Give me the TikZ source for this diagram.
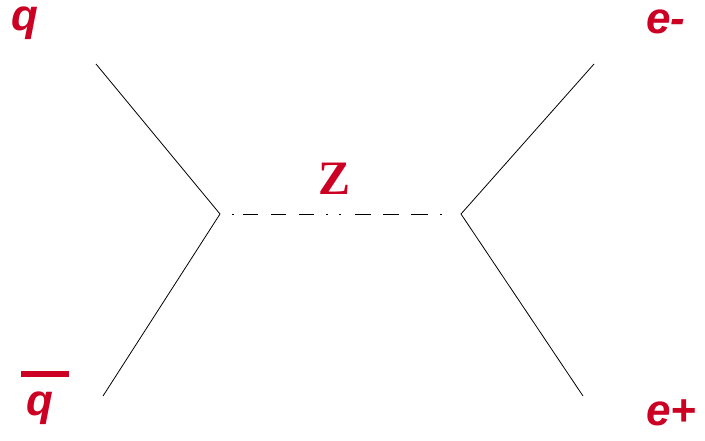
\documentclass[tikz,border=0pt]{standalone}
\usepackage{fontspec}
\setmainfont{Liberation Sans}
\newfontfamily\zfont{Liberation Serif}
\definecolor{lab}{RGB}{204,0,34}
\begin{document}
\begin{tikzpicture}[x=1pt,y=-1pt,
  leg/.style={draw=black,line width=0.8pt},
  prop/.style={draw=black,line width=0.9pt,
    dash pattern=on 0pt off 12pt on 2pt off 9pt on 15pt off 13pt on 15pt off 13pt on 15pt off 12pt on 2pt off 11pt on 2pt off 14pt on 16pt off 12pt on 16pt off 12pt on 17pt off 12pt on 2pt off 40pt},
  lbl/.style={text=lab,font=\fontsize{44}{44}\selectfont\bfseries\itshape,inner sep=0pt,anchor=base west,text height=0.6em},
  zlbl/.style={text=lab,font=\fontsize{48}{48}\selectfont\zfont\bfseries,inner sep=0pt,anchor=base west}]
\useasboundingbox (0,0) rectangle (705,441);
\coordinate (L) at (220,214);
\coordinate (R) at (461,214);
\coordinate (a1) at (96,64);
\coordinate (a2) at (103,396);
\coordinate (b1) at (594,64);
\coordinate (b2) at (583,396);
\draw[leg] (a1) -- (L) -- (a2);
\draw[leg] (b1) -- (R) -- (b2);
\draw[prop] (L) -- (R);
\node[lbl] (q) at (11,31) {q};
\node[lbl] (qb) at (26,415) {q};
\fill[lab] (21,371) rectangle (69,377);
\node[lbl] (em) at (646,34) {e-};
\node[lbl] (ep) at (646,425) {e+};
\node[zlbl] (z) at (318,195) {Z};
\end{tikzpicture}
\end{document}
